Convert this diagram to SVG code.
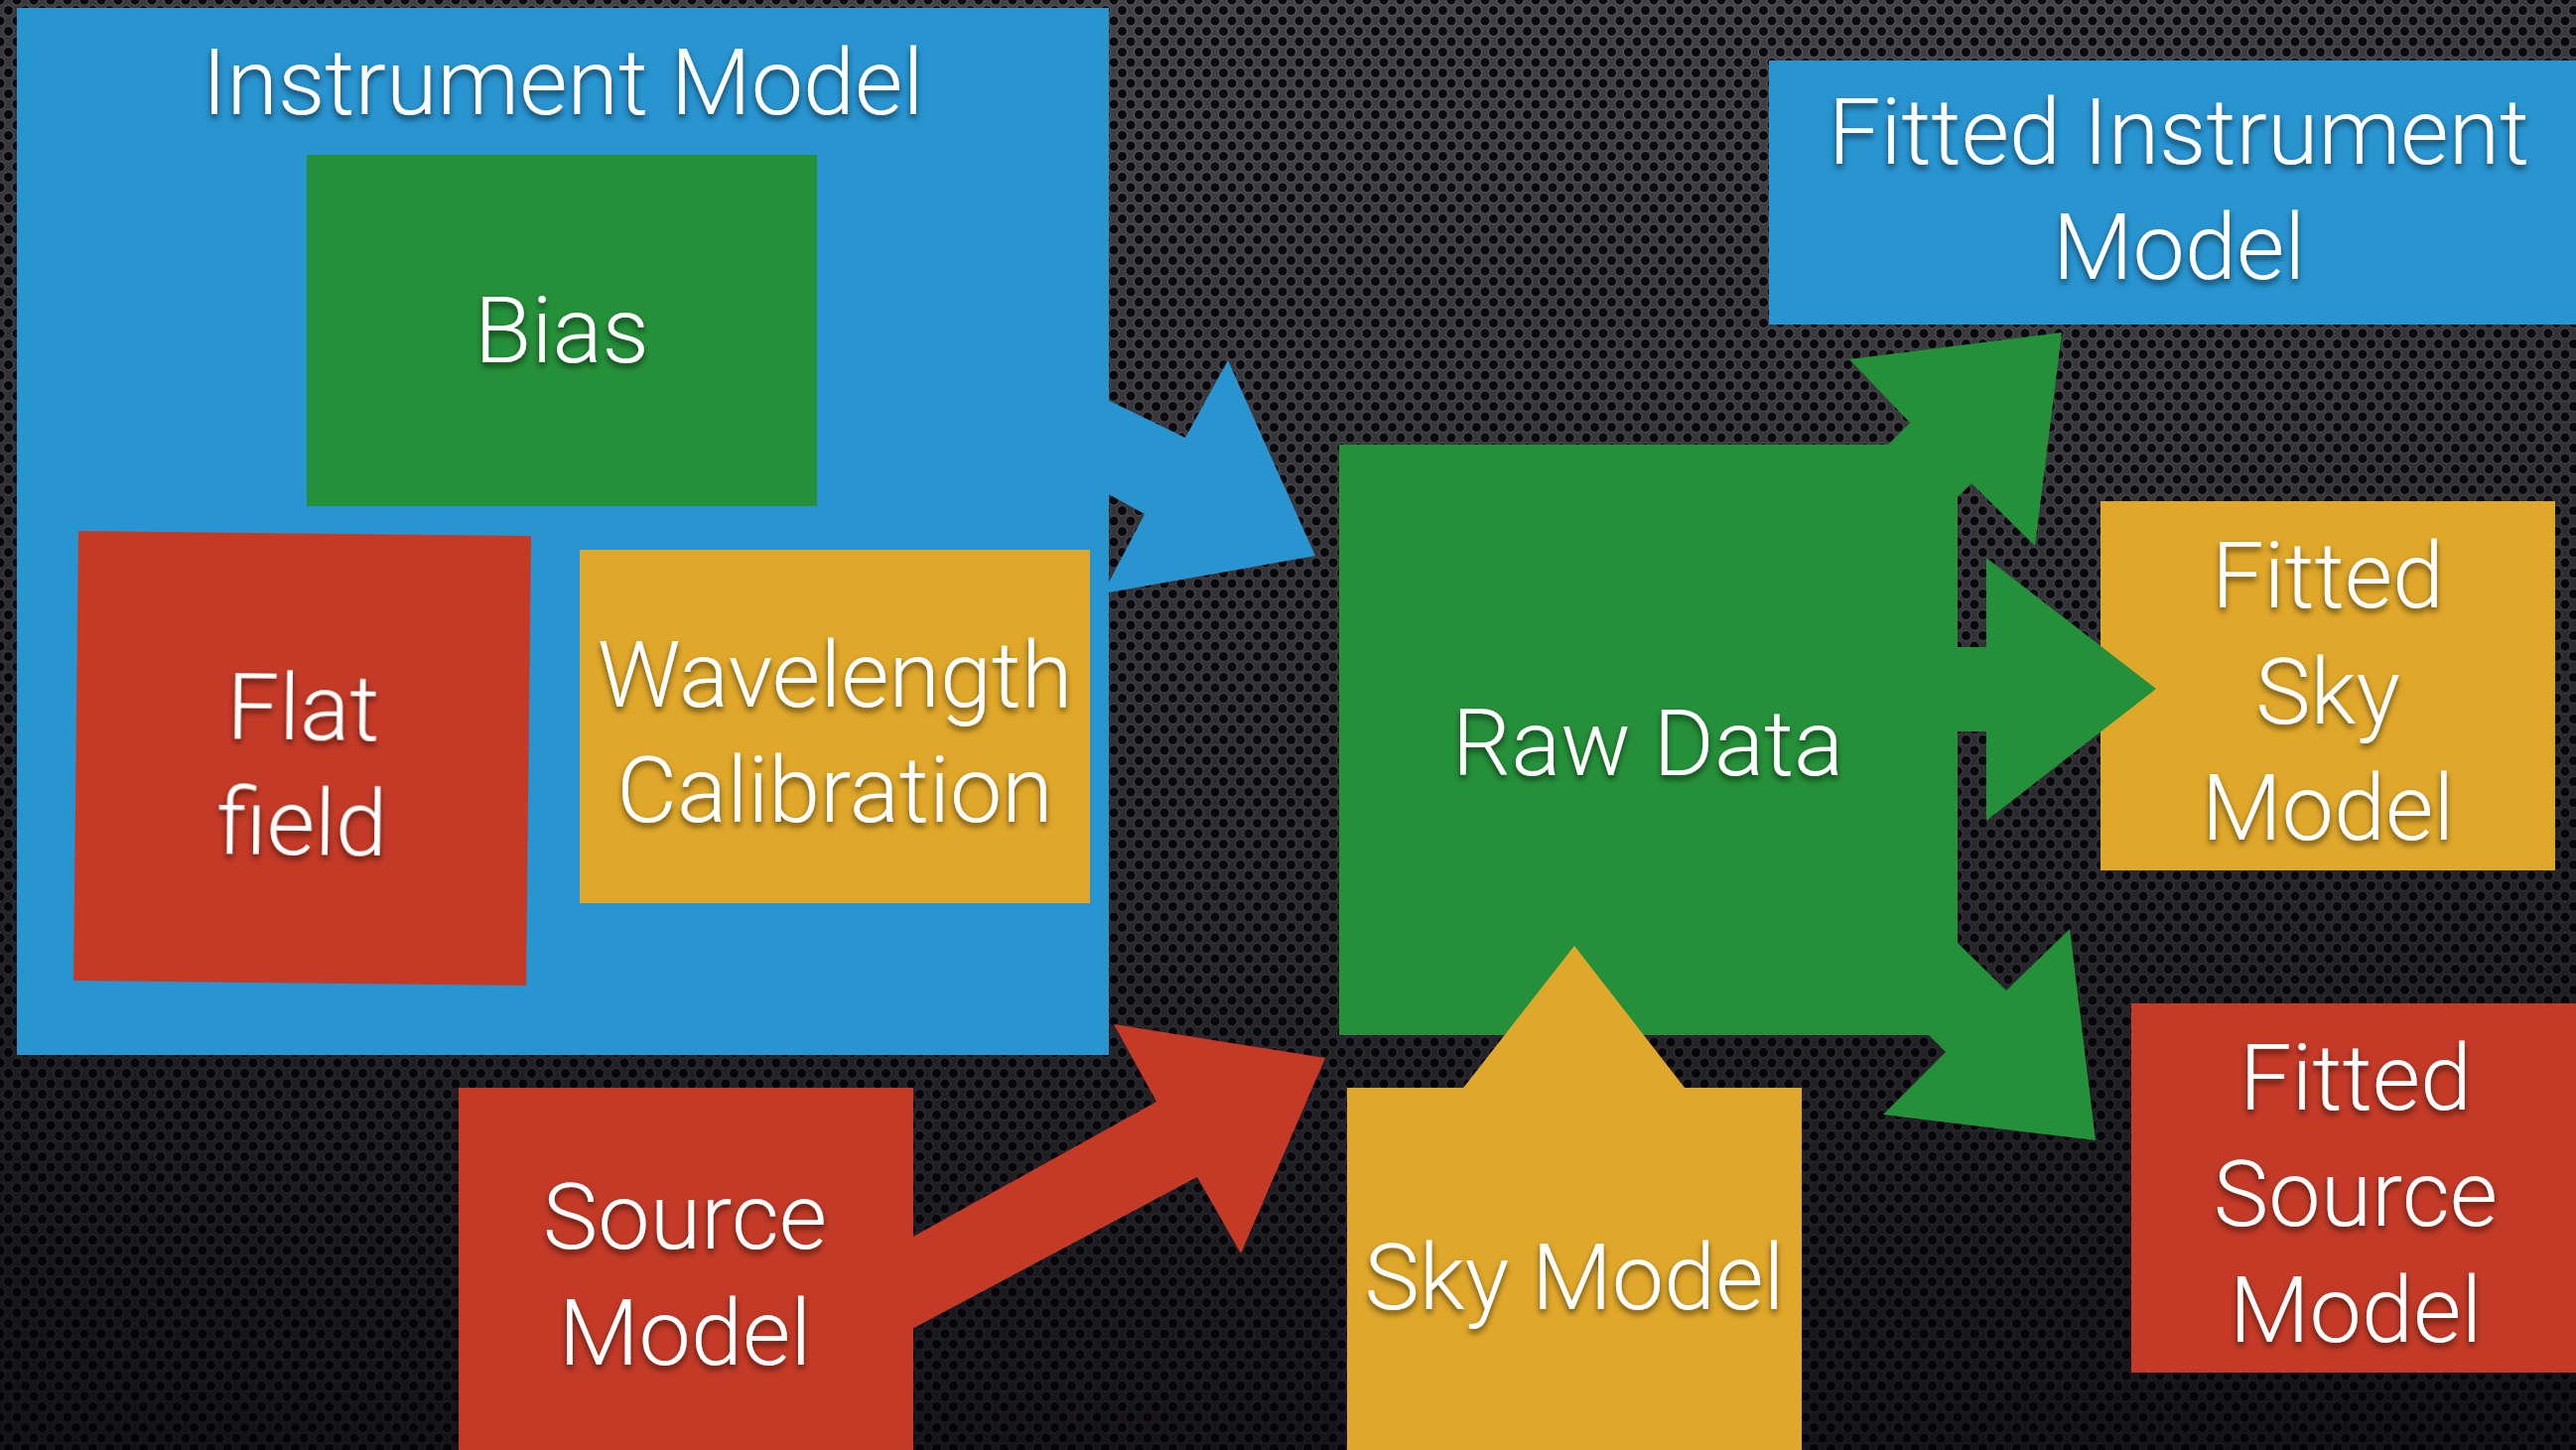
<svg xmlns="http://www.w3.org/2000/svg" width="2595" height="1461" viewBox="0 0 2595 1461">
<style>
.lbl{font-family:Roboto,"Liberation Sans",Arial,sans-serif;font-weight:300;font-size:93.5px;fill:#ffffff;text-anchor:middle;filter:url(#ts)}
.blue{fill:#2894d0}
.green{fill:#25903a}
.red{fill:#c43a27}
.yellow{fill:#e0a82a}
</style>
<defs>
<pattern id="perf" width="17" height="21" patternUnits="userSpaceOnUse">
<rect width="17" height="21" fill="#434349"/>
<g fill="#0b0b0f" stroke="#58585f" stroke-width="1.4">
<circle cx="0" cy="0" r="5.2"/>
<circle cx="17" cy="0" r="5.2"/>
<circle cx="0" cy="21" r="5.2"/>
<circle cx="17" cy="21" r="5.2"/>
<circle cx="8.5" cy="10.5" r="5.2"/>
</g>
</pattern>
<linearGradient id="shade" x1="0" y1="0" x2="0" y2="1">
<stop offset="0" stop-color="#000" stop-opacity="0.05"/>
<stop offset="1" stop-color="#05000a" stop-opacity="0.55"/>
</linearGradient>
<radialGradient id="vig" cx="0.5" cy="0.2" r="0.9">
<stop offset="0.4" stop-color="#000" stop-opacity="0"/>
<stop offset="1" stop-color="#000" stop-opacity="0.4"/>
</radialGradient>
<filter id="ts" x="-10%" y="-30%" width="120%" height="160%">
<feDropShadow dx="0" dy="4" stdDeviation="3" flood-color="#000" flood-opacity="0.6"/>
</filter>
</defs>
<g id="background">
<rect width="2595" height="1461" fill="url(#perf)"/>
<rect width="2595" height="1461" fill="url(#shade)"/>
<rect width="2595" height="1461" fill="url(#vig)"/>
</g>
<g id="instrument-model">
<rect class="blue" x="17" y="8" width="1100" height="1055"/>
<text class="lbl" x="567" y="115">Instrument Model</text>
</g>
<g id="bias">
<rect class="green" x="309" y="156" width="514" height="354"/>
<text class="lbl" x="566" y="365">Bias</text>
</g>
<g id="flat-field" transform="rotate(0.63 304.5 764)">
<rect class="red" x="76.5" y="537.5" width="456" height="453"/>
<text class="lbl" x="305" y="745">Flat</text>
<text class="lbl" x="305" y="861">field</text>
</g>
<g id="wavelength-calibration">
<rect class="yellow" x="584" y="554" width="514" height="356"/>
<text class="lbl" x="841" y="712">Wavelength</text>
<text class="lbl" x="841" y="828">Calibration</text>
</g>
<g id="raw-data">
<rect class="green" x="1349" y="448" width="623" height="595"/>
<text class="lbl" x="1660" y="781">Raw Data</text>
</g>
<g id="source-model">
<rect class="red" x="462" y="1096" width="458" height="380"/>
<text class="lbl" x="690" y="1258">Source</text>
<text class="lbl" x="690" y="1375">Model</text>
</g>
<g id="sky-model">
<rect class="yellow" x="1357" y="1096" width="458" height="380"/>
<text class="lbl" x="1586" y="1319">Sky Model</text>
</g>
<g id="fitted-instrument-model">
<rect class="blue" x="1782" y="61" width="830" height="266"/>
<text class="lbl" x="2195" y="165">Fitted Instrument</text>
<text class="lbl" x="2195" y="281">Model</text>
</g>
<g id="fitted-sky-model">
<rect class="yellow" x="2116" y="505" width="458" height="372"/>
<text class="lbl" x="2345" y="612">Fitted</text>
<text class="lbl" x="2345" y="729">Sky</text>
<text class="lbl" x="2345" y="846">Model</text>
</g>
<g id="fitted-source-model">
<rect class="red" x="2147" y="1011" width="460" height="372"/>
<text class="lbl" x="2373" y="1118">Fitted</text>
<text class="lbl" x="2373" y="1235">Source</text>
<text class="lbl" x="2373" y="1352">Model</text>
</g>
<g id="connectors">
<polygon class="blue" points="1050,371 1194,441 1237,363 1325,560 1111,598 1153,518 1050,461"/>
<polygon class="red" points="900,1257 1165,1110 1122,1032 1335,1066 1250,1263 1206,1186 900,1349"/>
<polygon class="yellow" points="1586,953 1718,1123 1630,1123 1630,1200 1543,1200 1543,1123 1453,1123"/>
<polygon class="green" points="1860,490 1924,426 1863,362 2077,335 2050,550 1986,487 1930,543"/>
<polygon class="green" points="1940,652 2001,652 2001,562 2172,694 2001,827 2001,737 1940,737"/>
<polygon class="green" points="1930,909 2021,998 2085,936 2111,1149 1897,1123 1960,1060 1900,1000"/>
</g>
</svg>
